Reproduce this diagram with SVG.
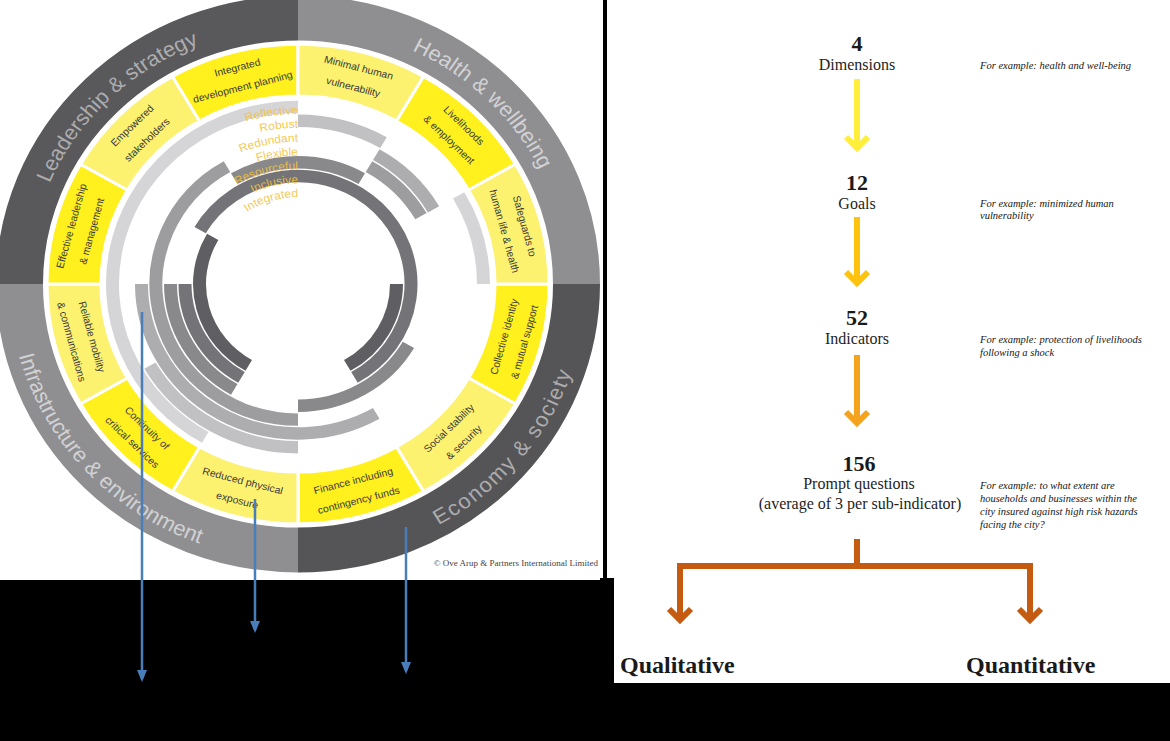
<svg xmlns="http://www.w3.org/2000/svg" width="1170" height="741" viewBox="0 0 1170 741">
<style>
.dim{font-family:"Liberation Sans",Arial,sans-serif;font-size:22px;}
.dimD{fill:#acacae;}
.dimM{fill:#d2d2d4;}
.goal{font-family:"Liberation Sans",Arial,sans-serif;font-size:10.5px;fill:#3a3a3a;text-anchor:middle;}
.qual{font-family:"Liberation Sans",Arial,sans-serif;font-size:12px;fill:#f2c23e;fill-opacity:0.9;text-anchor:end;}
.ring{fill:none;stroke-width:13;}
.quad{fill:none;stroke-width:47;}
.ySeg{stroke:#ffffff;stroke-width:3;}
.yB{fill:#fff01e;}
.yL{fill:#fdf170;}
.num{font-family:"Liberation Serif","Times New Roman",serif;font-size:22px;font-weight:bold;fill:#1a1a1a;text-anchor:middle;}
.lvl{font-family:"Liberation Serif","Times New Roman",serif;font-size:16px;fill:#1e1e1e;text-anchor:middle;}
.ex{font-family:"Liberation Serif","Times New Roman",serif;font-size:10.5px;font-style:italic;fill:#161616;}
.out{font-family:"Liberation Serif","Times New Roman",serif;font-size:24px;font-weight:bold;fill:#1a1a1a;}
.flow{fill:none;stroke-width:6;stroke-linejoin:miter;stroke-linecap:butt;}
.blue{fill:none;stroke:#4a7ebb;stroke-width:2.5;}
</style>
<defs>
<marker id="blueHead" markerUnits="userSpaceOnUse" viewBox="0 0 12 10" refX="9" refY="5" markerWidth="12" markerHeight="10" orient="auto">
<path d="M0 0 L12 5 L0 10 Z" fill="#4a7ebb"/>
</marker>
<path id="pLead" d="M-248.54 -105.49 A270 270 0 0 1 92.34 -253.72"/>
<path id="pHealth" d="M114.11 -244.70 A270 270 0 0 1 253.72 92.34"/>
<path id="pEcon" d="M140.5 252.5 A289 289 0 0 0 279.15 -74.80"/>
<path id="pInfra" d="M-279.15 74.80 A289 289 0 0 0 -25.19 287.90"/>
<path id="q1" d="M-178 0 A178 178 0 0 1 0 -178"/>
<path id="q2" d="M-163.5 0 A163.5 163.5 0 0 1 0 -163.5"/>
<path id="q3" d="M-149 0 A149 149 0 0 1 0 -149"/>
<path id="q4" d="M-134.5 0 A134.5 134.5 0 0 1 0 -134.5"/>
<path id="q5" d="M-120 0 A120 120 0 0 1 0 -120"/>
<path id="q6" d="M-105.5 0 A105.5 105.5 0 0 1 0 -105.5"/>
<path id="q7" d="M-91 0 A91 91 0 0 1 0 -91"/>
</defs>

<rect x="0" y="0" width="1170" height="741" fill="#000000"/>
<rect x="0" y="0" width="603" height="580" fill="#ffffff"/>
<rect x="607" y="0" width="563" height="683" fill="#ffffff"/>
<rect x="600" y="578" width="14" height="163" fill="#000000"/>

<g id="wheel" transform="translate(298 284) scale(1 0.955)">
  <g id="dimensions">
    <path class="quad" stroke="#59595b" d="M-278.5 0 A278.5 278.5 0 0 1 0 -278.5"/>
    <path class="quad" stroke="#8f8f92" d="M0 -278.5 A278.5 278.5 0 0 1 278.5 0"/>
    <path class="quad" stroke="#555557" d="M278.5 0 A278.5 278.5 0 0 1 0 278.5"/>
    <path class="quad" stroke="#8f8f92" d="M0 278.5 A278.5 278.5 0 0 1 -278.5 0"/>
    <text class="dim dimD"><textPath href="#pLead">Leadership &amp; strategy</textPath></text>
    <text class="dim dimM"><textPath href="#pHealth">Health &amp; wellbeing</textPath></text>
    <text class="dim dimD" letter-spacing="1.6"><textPath href="#pEcon">Economy &amp; society</textPath></text>
    <text class="dim dimM"><textPath href="#pInfra">Infrastructure &amp; environment</textPath></text>
  </g>

  <g id="goal-collective">
    <path class="ySeg yB" d="M251 0 A251 251 0 0 1 217.37 125.5 L170.6 98.5 A197 197 0 0 0 197 0 Z"/>
    <text class="goal" transform="rotate(15) translate(224 0) rotate(-90)"><tspan x="0" y="-7">Collective identity</tspan><tspan x="0" y="14">&amp; mutual support</tspan></text>
  </g>
  <g id="goal-social">
    <path class="ySeg yL" d="M217.37 125.5 A251 251 0 0 1 125.5 217.37 L98.5 170.6 A197 197 0 0 0 170.6 98.5 Z"/>
    <text class="goal" transform="rotate(45) translate(224 0) rotate(-90)"><tspan x="0" y="-7">Social stability</tspan><tspan x="0" y="14">&amp; security</tspan></text>
  </g>
  <g id="goal-finance">
    <path class="ySeg yB" d="M125.5 217.37 A251 251 0 0 1 0 251 L0 197 A197 197 0 0 0 98.5 170.6 Z"/>
    <text class="goal" transform="rotate(75) translate(224 0) rotate(-90)"><tspan x="0" y="-7">Finance including</tspan><tspan x="0" y="14">contingency funds</tspan></text>
  </g>
  <g id="goal-reduced">
    <path class="ySeg yL" d="M0 251 A251 251 0 0 1 -125.5 217.37 L-98.5 170.6 A197 197 0 0 0 0 197 Z"/>
    <text class="goal" transform="rotate(105) translate(224 0) rotate(-90)"><tspan x="0" y="-7">Reduced physical</tspan><tspan x="0" y="14">exposure</tspan></text>
  </g>
  <g id="goal-continuity">
    <path class="ySeg yB" d="M-125.5 217.37 A251 251 0 0 1 -217.37 125.5 L-170.6 98.5 A197 197 0 0 0 -98.5 170.6 Z"/>
    <text class="goal" transform="rotate(135) translate(224 0) rotate(-90)"><tspan x="0" y="-7">Continuity of</tspan><tspan x="0" y="14">critical services</tspan></text>
  </g>
  <g id="goal-mobility">
    <path class="ySeg yL" d="M-217.37 125.5 A251 251 0 0 1 -251 0 L-197 0 A197 197 0 0 0 -170.6 98.5 Z"/>
    <text class="goal" transform="rotate(165) translate(224 0) rotate(-90)"><tspan x="0" y="-7">Reliable mobility</tspan><tspan x="0" y="14">&amp; communications</tspan></text>
  </g>
  <g id="goal-leadership">
    <path class="ySeg yB" d="M-251 0 A251 251 0 0 1 -217.37 -125.5 L-170.6 -98.5 A197 197 0 0 0 -197 0 Z"/>
    <text class="goal" transform="rotate(195) translate(224 0) rotate(90)"><tspan x="0" y="-7">Effective leadership</tspan><tspan x="0" y="14">&amp; management</tspan></text>
  </g>
  <g id="goal-stakeholders">
    <path class="ySeg yL" d="M-217.37 -125.5 A251 251 0 0 1 -125.5 -217.37 L-98.5 -170.6 A197 197 0 0 0 -170.6 -98.5 Z"/>
    <text class="goal" transform="rotate(225) translate(224 0) rotate(90)"><tspan x="0" y="-7">Empowered</tspan><tspan x="0" y="14">stakeholders</tspan></text>
  </g>
  <g id="goal-planning">
    <path class="ySeg yB" d="M-125.5 -217.37 A251 251 0 0 1 0 -251 L0 -197 A197 197 0 0 0 -98.5 -170.6 Z"/>
    <text class="goal" transform="rotate(255) translate(224 0) rotate(90)"><tspan x="0" y="-7">Integrated</tspan><tspan x="0" y="14">development planning</tspan></text>
  </g>
  <g id="goal-vulnerability">
    <path class="ySeg yL" d="M0 -251 A251 251 0 0 1 125.5 -217.37 L98.5 -170.6 A197 197 0 0 0 0 -197 Z"/>
    <text class="goal" transform="rotate(285) translate(224 0) rotate(90)"><tspan x="0" y="-7">Minimal human</tspan><tspan x="0" y="14">vulnerability</tspan></text>
  </g>
  <g id="goal-livelihoods">
    <path class="ySeg yB" d="M125.5 -217.37 A251 251 0 0 1 217.37 -125.5 L170.6 -98.5 A197 197 0 0 0 98.5 -170.6 Z"/>
    <text class="goal" transform="rotate(315) translate(224 0) rotate(90)"><tspan x="0" y="-7">Livelihoods</tspan><tspan x="0" y="14">&amp; employment</tspan></text>
  </g>
  <g id="goal-safeguards">
    <path class="ySeg yL" d="M217.37 -125.5 A251 251 0 0 1 251 0 L197 0 A197 197 0 0 0 170.6 -98.5 Z"/>
    <text class="goal" transform="rotate(345) translate(224 0) rotate(90)"><tspan x="0" y="-7">Safeguards to</tspan><tspan x="0" y="14">human life &amp; health</tspan></text>
  </g>

  <g id="qualities">
    <g id="q-reflective" class="ring" stroke="#d5d5d7">
      <path d="M-92.75 160.65 A185.5 185.5 0 0 1 0 -185.5"/>
      <path d="M160.65 -92.75 A185.5 185.5 0 0 1 185.5 0"/>
    </g>
    <g id="q-robust" class="ring" stroke="#c1c1c4">
      <path d="M0 171 A171 171 0 0 1 -148.09 85.5"/>
      <path d="M0 -171 A171 171 0 0 1 85.5 -148.09"/>
    </g>
    <g id="q-redundant" class="ring" stroke="#adadb0">
      <path d="M78.25 135.53 A156.5 156.5 0 0 1 -156.5 0"/>
      <path d="M78.25 -135.53 A156.5 156.5 0 0 1 135.53 -78.25"/>
    </g>
    <g id="q-flexible" class="ring" stroke="#9d9da0">
      <path d="M0 142 A142 142 0 0 1 -71 -122.98"/>
      <path d="M71 -122.98 A142 142 0 0 1 122.98 -71"/>
    </g>
    <g id="q-resourceful" class="ring" stroke="#89898c">
      <path d="M110.42 63.75 A127.5 127.5 0 0 1 0 127.5"/>
      <path d="M-63.75 110.42 A127.5 127.5 0 0 1 -127.5 0"/>
      <path d="M-63.75 -110.42 A127.5 127.5 0 0 1 63.75 -110.42"/>
    </g>
    <g id="q-inclusive" class="ring" stroke="#747478">
      <path d="M-56.5 97.86 A113 113 0 0 1 -113 0"/>
      <path d="M-97.86 -56.5 A113 113 0 1 1 56.5 97.86"/>
    </g>
    <g id="q-integrated" class="ring" stroke="#5f5f63">
      <path d="M98.5 0 A98.5 98.5 0 0 1 49.25 85.3"/>
      <path d="M-49.25 85.3 A98.5 98.5 0 0 1 -85.3 -49.25"/>
    </g>
  </g>

  <g id="quality-labels">
    <text class="qual"><textPath href="#q1" startOffset="100%">Reflective</textPath></text>
    <text class="qual"><textPath href="#q2" startOffset="100%">Robust</textPath></text>
    <text class="qual"><textPath href="#q3" startOffset="100%">Redundant</textPath></text>
    <text class="qual"><textPath href="#q4" startOffset="100%">Flexible</textPath></text>
    <text class="qual"><textPath href="#q5" startOffset="100%">Resourceful</textPath></text>
    <text class="qual"><textPath href="#q6" startOffset="100%">Inclusive</textPath></text>
    <text class="qual"><textPath href="#q7" startOffset="100%">Integrated</textPath></text>
  </g>
</g>

<text id="copyright" x="598" y="566" text-anchor="end" font-family="'Liberation Serif','Times New Roman',serif" font-size="9" fill="#444444">© Ove Arup &amp; Partners International Limited</text>

<g id="blue-connectors">
  <line class="blue" x1="142" y1="312" x2="142" y2="679" marker-end="url(#blueHead)"/>
  <line class="blue" x1="255" y1="499" x2="255" y2="630" marker-end="url(#blueHead)"/>
  <line class="blue" x1="406" y1="527" x2="406" y2="671" marker-end="url(#blueHead)"/>
</g>

<g id="node-dimensions">
  <text class="num" x="857" y="51">4</text>
  <text class="lvl" x="857" y="70">Dimensions</text>
  <text class="ex" x="980" y="69">For example: health and well-being</text>
</g>
<g id="node-goals">
  <text class="num" x="857" y="190">12</text>
  <text class="lvl" x="857" y="209">Goals</text>
  <text class="ex" x="980" y="207">For example: minimized human</text>
  <text class="ex" x="980" y="219">vulnerability</text>
</g>
<g id="node-indicators">
  <text class="num" x="857" y="325">52</text>
  <text class="lvl" x="857" y="344">Indicators</text>
  <text class="ex" x="980" y="343">For example: protection of livelihoods</text>
  <text class="ex" x="980" y="356">following a shock</text>
</g>
<g id="node-questions">
  <text class="num" x="859" y="471">156</text>
  <text class="lvl" x="859" y="489">Prompt questions</text>
  <text class="lvl" x="860" y="509">(average of 3 per sub-indicator)</text>
  <text class="ex" x="980" y="489">For example: to what extent are</text>
  <text class="ex" x="980" y="502">households and businesses within the</text>
  <text class="ex" x="980" y="515">city insured against high risk hazards</text>
  <text class="ex" x="980" y="528">facing the city?</text>
</g>
<g id="node-qualitative">
  <text class="out" x="620" y="673">Qualitative</text>
</g>
<g id="node-quantitative">
  <text class="out" x="966" y="673">Quantitative</text>
</g>

<g id="flow-connectors">
  <path class="flow" stroke="#ffee3a" d="M857 79 V148 M846 137 L857 148 L868 137"/>
  <path class="flow" stroke="#ffc20e" d="M857 217 V283 M846 272 L857 283 L868 272"/>
  <path class="flow" stroke="#f5a31c" d="M857 355 V423 M846 412 L857 423 L868 412"/>
  <path class="flow" stroke="#c55a11" d="M857 539 V566 M680 620 V566 H1030 V620 M669 609 L680 620 L691 609 M1019 609 L1030 620 L1041 609"/>
</g>
</svg>
